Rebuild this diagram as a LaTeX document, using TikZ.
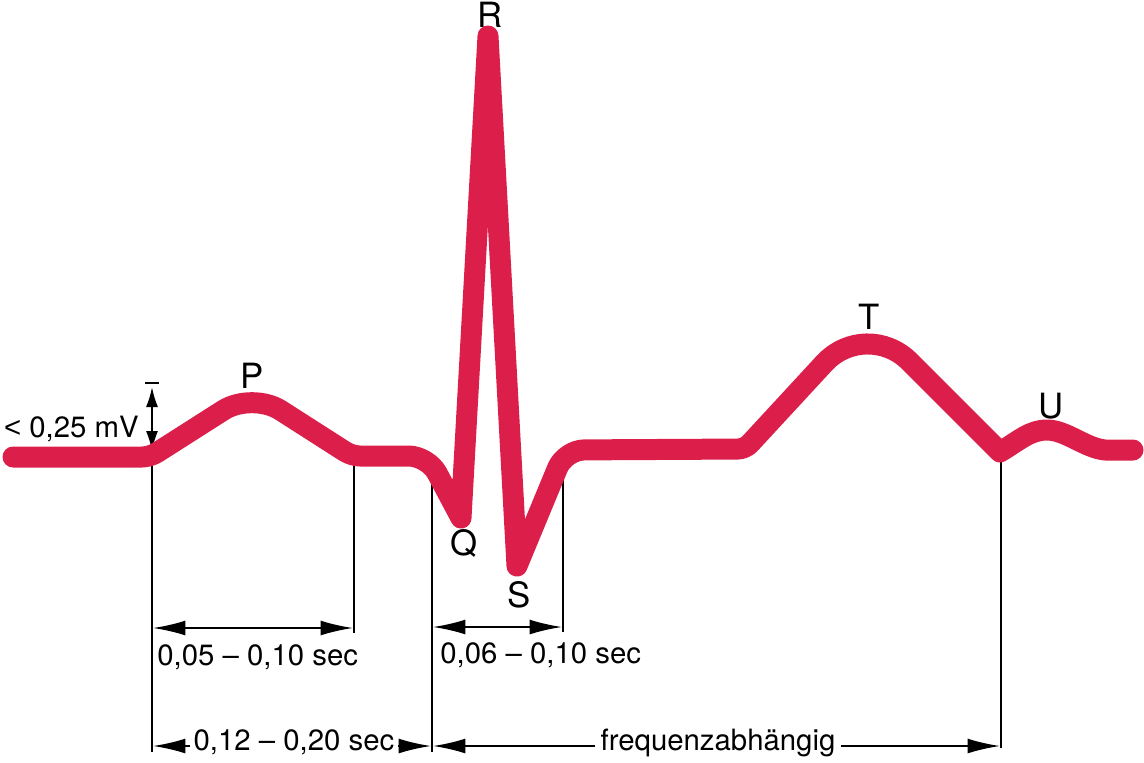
\documentclass[tikz,border=0pt]{standalone}
\usepackage{fontspec}
\setmainfont{TeX Gyre Heros}
\newfontfamily\lessfont{Liberation Sans}
\usepackage{tikz}
\usepackage{xcolor}
\usetikzlibrary{arrows.meta,positioning}
\definecolor{ecgred}{HTML}{DC1E4B}

\begin{document}
\begin{tikzpicture}[x=0.02cm,y=-0.02cm,
  wave/.style={draw=ecgred,line width=0.42cm,line cap=round,line join=round},
  guide/.style={draw=black,line width=1.1pt},
  dim/.style={guide,{Latex[length=6.5mm,width=3mm]}-{Latex[length=6.5mm,width=3mm]}},
  tip/.style={guide,-{Latex[length=6.5mm,width=3mm]}},
  lbl/.style={font=\fontsize{16.7}{20}\selectfont,inner sep=0pt},
  wlbl/.style={font=\fontsize{19.8}{22}\selectfont,inner sep=0pt,anchor=base}]
\useasboundingbox (0,0) rectangle (1144,762);

% guide lines under the curve
\coordinate (pon) at (152,457);
\coordinate (poff) at (354,457);
\coordinate (qon) at (432,465);
\coordinate (soff) at (563,462);
\coordinate (toff) at (1001,455);
\coordinate (pon-f) at (152,752);
\coordinate (poff-f) at (354,633);
\coordinate (qon-f) at (432,752);
\coordinate (soff-f) at (563,632);
\coordinate (toff-f) at (1001,748);
\draw[guide] (pon) -- (pon-f);
\draw[guide] (poff) -- (poff-f);
\draw[guide] (qon) -- (qon-f);
\draw[guide] (soff) -- (soff-f);
\draw[guide] (toff) -- (toff-f);

% amplitude of P
\coordinate (mv-l) at (145,383);
\coordinate (mv-r) at (159,383);
\coordinate (mv-t) at (152,387);
\coordinate (mv-b) at (152,451);
\draw[guide] (mv-l) -- (mv-r);
\draw[guide,{Latex[length=4mm,width=2.4mm]}-{Latex[length=4mm,width=2.4mm]}] (mv-t) -- (mv-b);
\node[lbl,anchor=base east] (mvlbl) at (139,437) {{\lessfont <} 0,25 mV};

% durations
\coordinate (pw-l) at (153,628);
\coordinate (pw-r) at (353,628);
\coordinate (qrs-l) at (433,627);
\coordinate (qrs-r) at (562,627);
\coordinate (pq-l) at (153,746);
\coordinate (pq-r) at (431,746);
\coordinate (fr-l) at (433,746);
\coordinate (fr-r) at (1000,746);
\draw[dim] (pw-l) -- (pw-r);
\draw[dim] (qrs-l) -- (qrs-r);
\node[lbl,anchor=base west] (pwlbl) at (157,665) {0,05 – 0,10 sec};
\node[lbl,anchor=base west] (qrslbl) at (440,663) {0,06 – 0,10 sec};
\node[lbl,inner xsep=2pt,anchor=mid] (pqlbl) at (294,746) {0,12 – 0,20 sec};
\node[lbl,inner xsep=3pt,anchor=mid] (frlbl) at (718,746) {frequenzabhängig};
\draw[tip] (pqlbl.mid west) -- (pq-l);
\draw[tip] (pqlbl.mid east) -- (pq-r);
\draw[tip] (frlbl.mid west) -- (fr-l);
\draw[tip] (frlbl.mid east) -- (fr-r);

% the curve
\draw[wave] (13,457)
  [rounded corners=4.5pt] -- (150,457)
  [rounded corners=19.3pt] -- (252,392)
  [rounded corners=4.5pt] -- (352,456)
  [rounded corners=11pt] -- (428,456)
  [sharp corners] -- (461,518) -- (488,36) -- (517,566)
  [rounded corners=11pt] -- (565,450)
  [rounded corners=4pt] -- (745,449)
  [rounded corners=35pt] -- (866,318)
  [sharp corners] -- (1000,452)
  .. controls (1020,440) and (1030,430) .. (1047,430)
  .. controls (1066,430) and (1085,448) .. (1105,450) -- (1133,450);

\node[wlbl] (P) at (252,388) {P};
\node[wlbl] (R) at (490,27) {R};
\node[wlbl] (Q) at (464,555) {Q};
\node[wlbl] (S) at (519,607) {S};
\node[wlbl] (T) at (869,329) {T};
\node[wlbl] (U) at (1051,418) {U};
\end{tikzpicture}
\end{document}
